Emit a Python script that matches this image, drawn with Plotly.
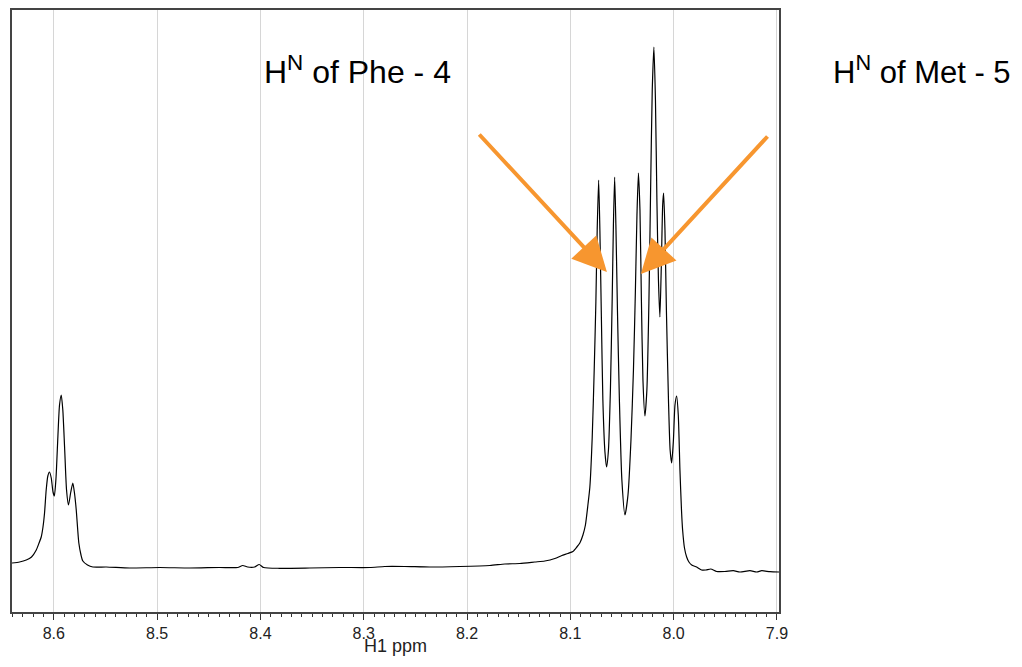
import plotly.graph_objects as go

# Chemical shift (ppm) and intensity (arbitrary units)
ppm = [8.6405, 8.6332, 8.6267, 8.6216, 8.6170, 8.6143, 8.6122, 8.6105, 8.6090, 8.6074,
       8.6058, 8.6042, 8.6025, 8.6008, 8.5995, 8.5979, 8.5961, 8.5945, 8.5928, 8.5913,
       8.5896, 8.5877, 8.5858, 8.5836, 8.5816, 8.5799, 8.5783, 8.5758, 8.5737, 8.5719,
       8.5674, 8.5622, 8.5492, 8.5267, 8.4976, 8.4685, 8.4395, 8.4220, 8.4172, 8.4124,
       8.4056, 8.4012, 8.3969, 8.3814, 8.3523, 8.3232, 8.2942, 8.2796, 8.2603, 8.2361,
       8.2070, 8.1779, 8.1634, 8.1489, 8.1343, 8.1247, 8.1150, 8.1082, 8.1024, 8.0975,
       8.0937, 8.0908, 8.0878, 8.0854, 8.0830, 8.0811, 8.0788, 8.0769, 8.0753, 8.0740,
       8.0726, 8.0714, 8.0699, 8.0685, 8.0665, 8.0649, 8.0631, 8.0612, 8.0595, 8.0583,
       8.0571, 8.0559, 8.0544, 8.0525, 8.0501, 8.0471, 8.0442, 8.0413, 8.0389, 8.0370,
       8.0355, 8.0341, 8.0326, 8.0312, 8.0297, 8.0278, 8.0259, 8.0239, 8.0223, 8.0207,
       8.0191, 8.0176, 8.0162, 8.0147, 8.0133, 8.0118, 8.0106, 8.0097, 8.0084, 8.0070,
       8.0050, 8.0034, 8.0019, 8.0002, 7.9987, 7.9971, 7.9955, 7.9939, 7.9924, 7.9913,
       7.9895, 7.9874, 7.9852, 7.9825, 7.9777, 7.9729, 7.9687, 7.9641, 7.9583, 7.9503,
       7.9422, 7.9358, 7.9261, 7.9196, 7.9147, 7.9067, 7.8980]
intensity = [49, 50, 52, 55, 62, 69, 75, 85, 99, 122,
             136, 140, 134, 120, 116, 134, 175, 207, 217, 202,
             165, 122, 107, 120, 129, 118, 102, 69, 57, 51,
             47, 45, 45, 44, 44.5, 44, 44.5, 44.5, 46.5, 45,
             45, 47.5, 44.5, 43.7, 44, 44.5, 44.5, 45.5, 45.5, 45,
             45.5, 46.5, 48, 48.5, 50, 51, 53.5, 56.5, 58.5, 60.5,
             65, 69, 77, 87, 107, 125, 175, 242, 309, 382,
             432, 382, 292, 212, 160, 145, 162, 222, 312, 387,
             435, 387, 302, 212, 132, 97, 117, 172, 242, 322,
             397, 439, 402, 312, 232, 196, 222, 312, 422, 522,
             565, 512, 412, 332, 295, 352, 407, 419, 382, 302,
             212, 162, 149, 172, 207, 216, 197, 142, 102, 82,
             64, 55, 50, 47, 45, 42, 42, 43, 40.5, 40.5,
             41.3, 40, 41.3, 40, 41.3, 40.3, 40]

tick_vals = [8.6, 8.5, 8.4, 8.3, 8.2, 8.1, 8.0, 7.9]
tick_text = ["8.6", "8.5", "8.4", "8.3", "8.2", "8.1", "8.0", "7.9"]
x_title = "H1 ppm"

labels = ["H<sup>N</sup> of Phe - 4", "H<sup>N</sup> of Met - 5"]
arrow_tips_ppm = [8.0646, 8.0317]
arrow_tips_int = [340, 338]

orange = "#F7962F"
font_family = "Liberation Sans, Arial, Helvetica, sans-serif"

fig = go.Figure()
fig.add_trace(go.Scatter(x=ppm, y=intensity, mode="lines",
                         line=dict(color="black", width=1.2, shape="spline", smoothing=0.6),
                         hoverinfo="skip", showlegend=False))

# page body has an 8px margin, so the figure is sized/offset to compensate
fig.update_layout(
    width=1006, height=651,
    margin=dict(l=4, r=235, t=2, b=47),
    paper_bgcolor="white", plot_bgcolor="white",
    font=dict(family=font_family, color="black"),
    xaxis=dict(range=[8.6405, 7.898], tickvals=tick_vals, ticktext=tick_text,
               automargin=False,
               ticks="outside", ticklen=6, tickwidth=1, tickcolor="#333",
               showline=True, linecolor="#444", linewidth=1.5, mirror=True,
               showgrid=True, gridcolor="#d6d6d6", gridwidth=1, zeroline=False,
               tickfont=dict(size=16, color="#222"),
               minor=dict(dtick=0.01, ticks="outside", ticklen=3, tickcolor="#333", showgrid=False)),
    yaxis=dict(range=[0, 602], showticklabels=False, ticks="", showgrid=False, automargin=False,
               zeroline=False, showline=True, linecolor="#444", linewidth=1.5, mirror=True),
)

# x-axis title
fig.add_annotation(x=0.5, y=-0.057, xref="paper", yref="paper", text=x_title,
                   showarrow=False, font=dict(size=18, color="#222"), xanchor="center", yanchor="middle")

fig.add_annotation(x=0.450, y=0.900, xref="paper", yref="paper", text=labels[0],
                   showarrow=False, font=dict(size=32, color="black"), xanchor="center", yanchor="middle")
fig.add_annotation(x=1.187, y=0.900, xref="paper", yref="paper", text=labels[1],
                   showarrow=False, font=dict(size=31, color="black"), xanchor="center", yanchor="middle")

tails = [(-129, -139), (128, -139)]
for xt, yt, (ax, ay) in zip(arrow_tips_ppm, arrow_tips_int, tails):
    fig.add_annotation(x=xt, y=yt, xref="x", yref="y", text="", showarrow=True,
                       ax=ax, ay=ay, arrowhead=2, arrowsize=1.7, arrowwidth=4,
                       arrowcolor=orange, standoff=0)

fig.write_html("out.html")
